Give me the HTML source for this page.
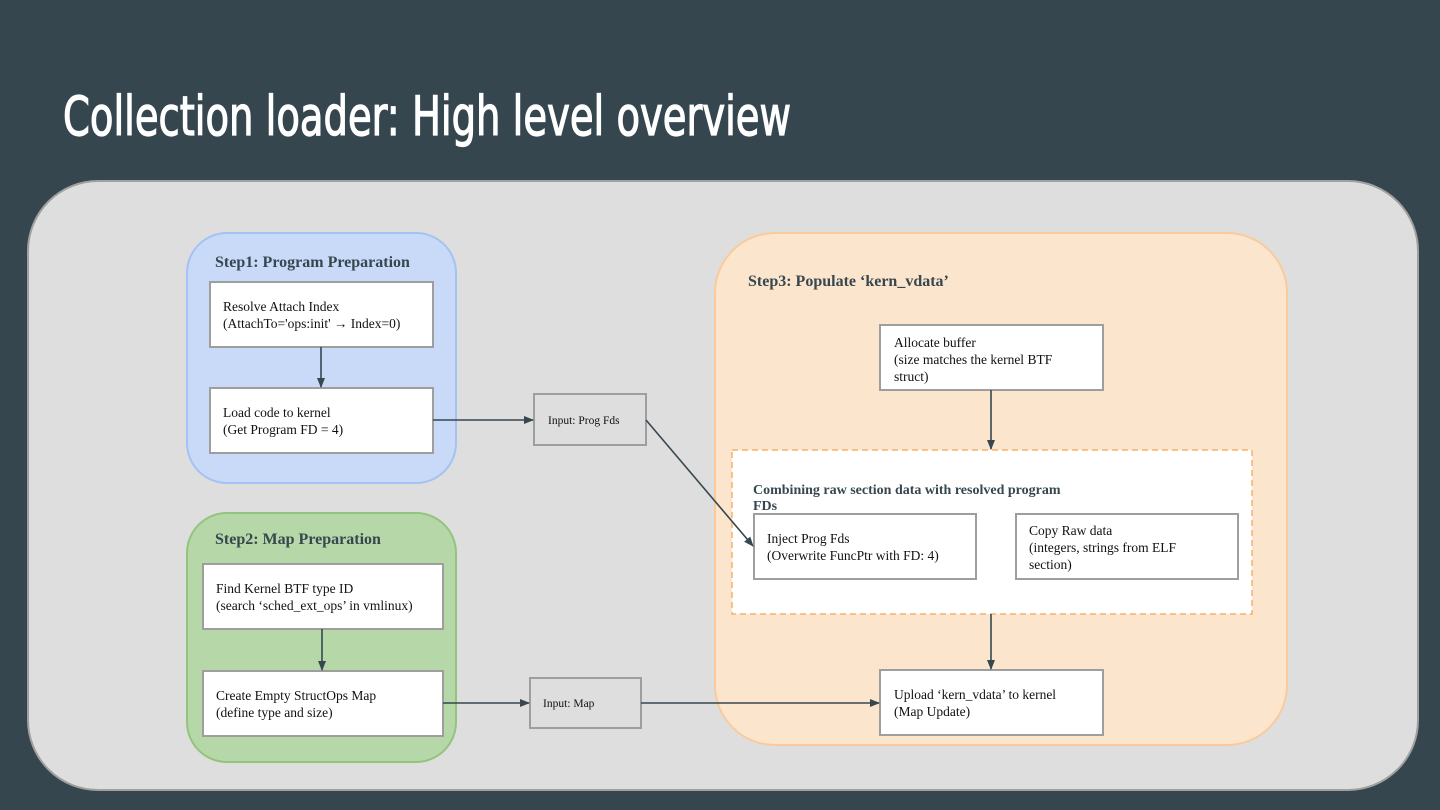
<!DOCTYPE html>
<html><head><meta charset="utf-8"><style>
html,body{margin:0;padding:0;background:#36464f;}
svg{display:block}
.t{font-family:"Liberation Serif",serif;font-size:13.5px;fill:#111}
.b{font-family:"Liberation Serif",serif;font-size:16px;font-weight:bold;fill:#37474f}
.s{font-family:"Liberation Serif",serif;font-size:11.5px;fill:#111}
</style></head><body>
<svg width="1440" height="810" viewBox="0 0 1440 810" xmlns="http://www.w3.org/2000/svg">
<defs><marker id="a" markerWidth="10" markerHeight="8" refX="9" refY="4" orient="auto" markerUnits="userSpaceOnUse"><path d="M0,0 L10,4 L0,8 z" fill="#37474f"/></marker></defs>
<rect width="1440" height="810" fill="#36464f"/>
<text x="63" y="135" font-family="'Liberation Sans Narrow','DejaVu Sans Condensed','Liberation Sans',sans-serif" font-size="54" fill="#fff" stroke="#fff" stroke-width="1.2" textLength="728" lengthAdjust="spacingAndGlyphs">Collection loader: High level overview</text>
<rect x="28" y="181" width="1390" height="609" rx="70" fill="#dedede" stroke="#a0a0a0" stroke-width="2"/>
<rect x="187" y="233" width="269" height="250" rx="40" fill="#c9daf8" stroke="#a4c2f4" stroke-width="2"/>
<rect x="187" y="513" width="269" height="249" rx="40" fill="#b6d7a8" stroke="#93c47d" stroke-width="2"/>
<rect x="715" y="233" width="572" height="512" rx="60" fill="#fce5cd" stroke="#f9cb9c" stroke-width="2"/>
<text x="215" y="267" class="b">Step1: Program Preparation</text>
<text x="215" y="544" class="b">Step2: Map Preparation</text>
<text x="748" y="286" class="b">Step3: Populate ‘kern_vdata’</text>
<g fill="#fff" stroke="#9e9e9e" stroke-width="2">
<rect x="210" y="282" width="223" height="65"/>
<rect x="210" y="388" width="223" height="65"/>
<rect x="203" y="564" width="240" height="65"/>
<rect x="203" y="671" width="240" height="65"/>
<rect x="880" y="325" width="223" height="65"/>
<rect x="880" y="670" width="223" height="65"/>
</g>
<rect x="732" y="450" width="520" height="164" fill="#fff" stroke="#f6b26b" stroke-width="1.5" stroke-dasharray="6,4"/>
<g fill="#fff" stroke="#9e9e9e" stroke-width="2">
<rect x="754" y="514" width="222" height="65"/>
<rect x="1016" y="514" width="222" height="65"/>
</g>
<g fill="#dedede" stroke="#9e9e9e" stroke-width="2">
<rect x="534" y="394" width="112" height="51"/>
<rect x="530" y="678" width="111" height="50"/>
</g>
<text x="223" y="311" class="t">Resolve Attach Index</text>
<text x="223" y="328" class="t">(AttachTo='ops:init' → Index=0)</text>
<text x="223" y="417" class="t">Load code to kernel</text>
<text x="223" y="434" class="t">(Get Program FD = 4)</text>
<text x="216" y="593" class="t">Find Kernel BTF type ID</text>
<text x="216" y="610" class="t">(search ‘sched_ext_ops’ in vmlinux)</text>
<text x="216" y="700" class="t">Create Empty StructOps Map</text>
<text x="216" y="717" class="t">(define type and size)</text>
<text x="894" y="347" class="t">Allocate buffer</text>
<text x="894" y="364" class="t">(size matches the kernel BTF</text>
<text x="894" y="381" class="t">struct)</text>
<text x="894" y="699" class="t">Upload ‘kern_vdata’ to kernel</text>
<text x="894" y="716" class="t">(Map Update)</text>
<text x="753" y="494" class="b" style="font-size:14px">Combining raw section data with resolved program</text>
<text x="753" y="510" class="b" style="font-size:14px">FDs</text>
<text x="767" y="543" class="t">Inject Prog Fds</text>
<text x="767" y="560" class="t">(Overwrite FuncPtr with FD: 4)</text>
<text x="1029" y="535" class="t">Copy Raw data</text>
<text x="1029" y="552" class="t">(integers, strings from ELF</text>
<text x="1029" y="569" class="t">section)</text>
<text x="548" y="424" class="s">Input: Prog Fds</text>
<text x="543" y="707" class="s">Input: Map</text>
<g stroke="#37474f" stroke-width="1.6" fill="none" marker-end="url(#a)">
<line x1="321" y1="347" x2="321" y2="387"/>
<line x1="322" y1="629" x2="322" y2="670"/>
<line x1="433" y1="420" x2="533" y2="420"/>
<line x1="646" y1="420" x2="753" y2="546"/>
<line x1="443" y1="703" x2="529" y2="703"/>
<line x1="641" y1="703" x2="879" y2="703"/>
<line x1="991" y1="390" x2="991" y2="449"/>
<line x1="991" y1="614" x2="991" y2="669"/>
</g>
</svg>
</body></html>
